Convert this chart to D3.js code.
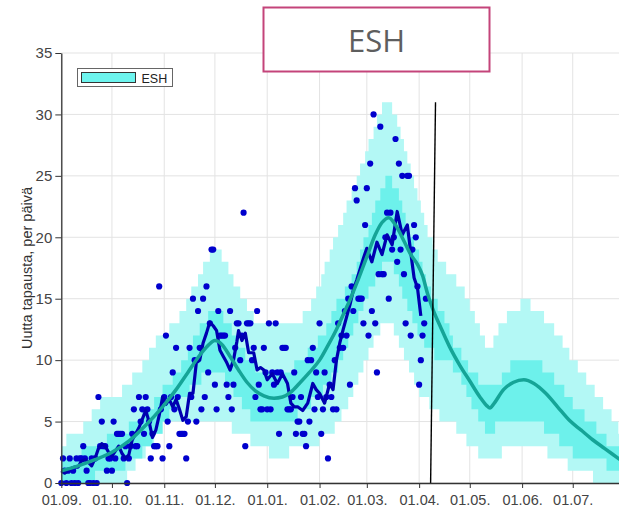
<!DOCTYPE html>
<html>
<head>
<meta charset="utf-8">
<script src="https://cdn.jsdelivr.net/npm/d3@7"></script>
<style>
  body { margin: 0; background: #fff; }
  svg { display: block; font-family: "Liberation Sans", Arial, sans-serif; }
</style>
</head>
<body>
<div id="chart"></div>
<script>
// ---- data (days counted from 01.09.2020) ----
const startDay = "2020-09-01";
const lastDay = 331;

const monthTicks = ["2020-09-01", "2020-10-01", "2020-11-01", "2020-12-01", "2021-01-01",
  "2021-02-01", "2021-03-01", "2021-04-01", "2021-05-01", "2021-06-01", "2021-07-01"];
const yTicks = [0, 5, 10, 15, 20, 25, 30, 35];

// daily new cases, one value per day from 01.09.
const dailyCases = [
  0, 2, 1, 0, 1, 2, 0, 1, 0, 2,
  0, 2, 2, 3, 2, 1, 0, 0, 2, 0,
  2, 0, 7, 3, 5, 3, 3, 1, 2, 2,
  1, 5, 2, 4, 4, 4, 4, 2, 3, 0,
  2, 3, 4, 6, 3, 3, 7, 5, 6, 4,
  7, 6, 5, 2, 4, 3, 3, 3, 16, 6,
  2, 7, 12, 5, 3, 7, 9, 6, 11, 7,
  4, 4, 4, 4, 2, 5, 11, 7, 15, 10,
  5, 14, 11, 6, 15, 7, 16, 9, 13, 19,
  19, 8, 6, 14, 12, 12, 12, 12, 8, 7,
  14, 6, 8, 11, 13, 13, 10, 12, 22, 3,
  13, 13, 13, 10, 11, 7, 14, 8, 6, 6,
  11, 9, 6, 13, 6, 9, 8, 13, 9, 4,
  9, 11, 11, 11, 6, 6, 6, 7, 9, 4,
  5, 5, 7, 4, 4, 3, 10, 5, 10, 11,
  6, 9, 7, 13, 4, 6, 9, 7, 2, 8,
  7, 6, 10, 6, 13, 11, 12, 11, 14, 12,
  15, 8, 16, 14, 24, 23, 15, 15, 15, 13,
  21, 24, 12, 26, 14, 30, 13, 9, 17, 29,
  17, 17, 20, 22, 15, 22, 19, 20, 28, 18,
  26, 19, 25, 17, 13, 25, 25, 12, 19, 21,
  20, 16, 8, 10, 12, 13, 15
];

// observed rolling mean [day, value]
const observed = [
  [0,1.0],[2,0.8],[4,1.0],[6,1.2],[8,1.3],[10,1.3],[12,1.8],[14,1.9],[16,1.7],[18,1.4],
  [20,2.0],[22,2.8],[24,3.2],[26,3.0],[28,2.5],[30,2.2],[32,2.6],[34,3.0],[36,2.4],[38,2.0],
  [40,2.3],[42,3.5],[44,4.0],[46,4.5],[48,5.2],[50,5.9],[52,5.0],[54,3.7],[56,4.3],[58,5.5],
  [60,7.0],[62,6.4],[64,6.8],[66,6.2],[68,6.8],[70,6.0],[72,5.1],[74,5.4],[76,7.3],[78,7.3],
  [80,9.8],[82,10.0],[84,11.4],[86,12.2],[88,13.1],[90,12.8],[92,12.4],[94,10.8],[96,10.3],[98,9.8],
  [100,9.2],[102,10.0],[104,11.5],[105,12.4],[107,11.6],[109,12.2],[111,10.6],[114,10.6],[116,9.2],[118,9.4],
  [120,9.2],[122,8.4],[125,8.9],[128,8.1],[131,8.9],[134,8.1],[136,6.5],[138,6.2],[140,6.2],[143,5.9],
  [146,6.5],[149,8.1],[151,7.6],[153,7.3],[156,6.5],[159,8.1],[161,7.6],[163,10.0],[165,11.4],[167,12.5],
  [169,13.5],[171,14.5],[173,15.7],[175,16.5],[177,17.4],[179,18.3],[181,19.1],[184,18.0],[187,19.6],[190,18.6],
  [193,20.2],[196,19.4],[199,22.1],[202,20.2],[205,21.0],[207,18.8],[209,16.7],[211,15.9],[213,13.6]
];

// model median [day, value]
const median = [
  [0,1.0],[10,1.4],[20,1.9],[30,2.5],[40,3.4],[50,4.7],[60,6.2],[68,7.6],[75,9.0],[82,10.4],
  [87,11.2],[91,11.6],[95,11.3],[100,10.3],[105,9.2],[110,8.2],[115,7.5],[120,7.1],[126,6.9],[131,7.0],
  [136,7.4],[141,8.1],[147,9.0],[153,10.0],[158,11.2],[163,12.5],[168,14.0],[171,14.9],[176,16.6],[181,18.4],
  [186,20.2],[190,21.2],[194,21.6],[198,21.0],[203,19.7],[207,18.6],[211,17.8],[214,16.9],[217,15.4],[220,14.2],
  [225,12.6],[230,11.1],[236,9.6],[242,8.3],[248,7.0],[252,6.3],[254,6.1],[256,6.4],[262,7.6],[268,8.2],
  [274,8.4],[280,8.1],[287,7.3],[294,6.2],[301,5.1],[308,4.3],[315,3.5],[322,2.8],[331,1.9]
];

// prediction band edges, step change points [day, value]
const outerHigh = [
  [0,3],[3,4],[13,5],[18,6],[23,7],[36,8],[42,9],[48,10],[52,11],[56,12],[64,13],[70,14],[74,15],[77,16],
  [81,17],[84,18],[88,19],[95,18],[99,17],[102,16],[106,15],[110,14],[114,13],[143,14],[148,15],[151,16],
  [154,17],[156,18],[159,19],[161,20],[164,21],[167,22],[169,23],[172,24],[175,25],[177,26],[180,27],
  [182,28],[185,29],[187,30],[190,31],[196,30],[199,29],[201,28],[203,27],[205,26],[207,25],[209,24],
  [211,23],[213,22],[215,21],[217,20],[220,19],[223,18],[228,17],[234,16],[239,15],[242,14],[245,13],
  [248,12],[251,11],[256,12],[259,13],[264,14],[272,15],[278,14],[286,13],[292,12],[297,11],[301,10],
  [306,9],[311,8],[316,7],[321,6],[326,5],[330,4]
];
const innerHigh = [
  [0,2],[12,3],[27,4],[40,5],[48,6],[55,7],[60,8],[66,9],[71,10],[75,11],[78,12],[82,13],[87,14],[96,13],
  [101,12],[105,11],[109,10],[115,9],[138,10],[146,11],[152,12],[157,13],[160,14],[163,15],[168,16],
  [172,17],[175,18],[177,19],[179,20],[182,21],[184,22],[186,23],[189,24],[192,25],[196,24],[200,23],
  [202,22],[204,21],[206,20],[209,19],[212,18],[214,17],[216,16],[219,15],[223,14],[227,13],[230,12],
  [232,11],[237,10],[241,9],[247,8],[261,9],[266,10],[285,9],[292,8],[298,7],[303,6],[310,5],[317,4],[323,3]
];
const innerLow = [
  [0,0],[20,1],[38,2],[48,3],[54,4],[60,5],[64,6],[70,7],[76,8],[83,9],[97,8],[102,7],[107,6],[112,5],
  [140,6],[148,7],[155,8],[160,9],[164,10],[167,11],[170,12],[173,13],[176,14],[179,15],[182,16],[186,17],
  [190,18],[197,17],[200,16],[202,15],[205,14],[208,13],[211,12],[215,11],[221,10],[232,9],[237,8],
  [240,7],[243,6],[247,5],[251,4],[257,5],[286,4],[295,3],[303,2],[323,1]
];
const outerLow = [
  [0,0],[39,1],[44,2],[50,3],[55,4],[60,5],[101,4],[112,3],[123,2],[135,3],[153,4],[162,5],[166,6],
  [170,7],[173,8],[176,9],[179,10],[182,11],[185,12],[189,13],[197,12],[200,11],[203,10],[206,9],
  [209,8],[212,7],[218,6],[224,5],[234,4],[240,3],[247,2],[261,3],[288,2],[300,1],[315,0]
];

// end-of-data marker line [day, value]
const cutoff = [[221.7, 31], [218.8, 0]];

// ---- chart ----
const width = 619, height = 508;
const x0 = 61.3, x1 = 620, yBottom = 483, yTop = 53;

const start = new Date(startDay).getTime();
const dayDate = d => new Date(start + d * 864e5);

const x = d3.scaleUtc().domain([dayDate(0), dayDate(lastDay)]).range([x0, x1]);
const y = d3.scaleLinear().domain([0, 35]).range([yBottom, yTop]);
const months = monthTicks.map(s => new Date(s));

const svg = d3.select("#chart").append("svg")
  .attr("width", width)
  .attr("height", height);

// grid
svg.append("g").selectAll("line")
  .data(yTicks)
  .join("line")
    .attr("x1", x0).attr("x2", x1)
    .attr("y1", d => y(d)).attr("y2", d => y(d))
    .attr("stroke", "#e3e3e3").attr("stroke-width", 1);
svg.append("g").selectAll("line")
  .data(months)
  .join("line")
    .attr("x1", d => x(d)).attr("x2", d => x(d))
    .attr("y1", yTop).attr("y2", yBottom)
    .attr("stroke", "#e3e3e3").attr("stroke-width", 1);

// bands
function stepValue(steps, day) {
  let v = steps[0][1];
  for (const [d, val] of steps) { if (d <= day) v = val; else break; }
  return v;
}
function bandRows(hi, lo) {
  const days = Array.from(new Set([...hi.map(s => s[0]), ...lo.map(s => s[0]), lastDay]))
    .sort((a, b) => a - b);
  return days.map(d => ({day: d, hi: stepValue(hi, d), lo: stepValue(lo, d)}));
}
const band = d3.area()
  .curve(d3.curveStepAfter)
  .x(d => x(dayDate(d.day)))
  .y0(d => y(d.lo))
  .y1(d => y(d.hi));

svg.append("path")
  .datum(bandRows(outerHigh, outerLow))
  .attr("fill", "#b3f8f5")
  .attr("d", band);
svg.append("path")
  .datum(bandRows(innerHigh, innerLow))
  .attr("fill", "#6df1eb")
  .attr("d", band);

// daily dots
svg.append("g").selectAll("circle")
  .data(dailyCases)
  .join("circle")
    .attr("cx", (d, i) => x(dayDate(i)))
    .attr("cy", d => y(d))
    .attr("r", 3.1)
    .attr("fill", "#0000cd");

// observed line
svg.append("path")
  .datum(observed)
  .attr("fill", "none")
  .attr("stroke", "#0000b0")
  .attr("stroke-width", 3.2)
  .attr("stroke-linejoin", "round")
  .attr("d", d3.line().x(d => x(dayDate(d[0]))).y(d => y(d[1])));

// median line
svg.append("path")
  .datum(median)
  .attr("fill", "none")
  .attr("stroke", "#15a497")
  .attr("stroke-width", 3.5)
  .attr("d", d3.line().curve(d3.curveMonotoneX).x(d => x(dayDate(d[0]))).y(d => y(d[1])));

// cutoff marker
svg.append("path")
  .datum(cutoff)
  .attr("fill", "none")
  .attr("stroke", "#000")
  .attr("stroke-width", 1.4)
  .attr("d", d3.line().x(d => x(dayDate(d[0]))).y(d => y(d[1])));

// axes
const gy = svg.append("g")
  .attr("transform", `translate(${x0},0)`)
  .call(d3.axisLeft(y).tickValues(yTicks).tickSize(6).tickSizeOuter(0).tickPadding(3));
gy.attr("color", "#333").attr("font-size", 15).attr("font-family", null);
gy.selectAll(".tick text").attr("fill", "#444");
gy.select(".domain").attr("stroke-width", 1.3);

const gx = svg.append("g")
  .attr("transform", `translate(0,${yBottom})`)
  .call(d3.axisBottom(x).tickValues(months).tickSize(5).tickSizeOuter(0).tickPadding(7)
    .tickFormat(d3.utcFormat("%d.%m.")));
gx.attr("color", "#333").attr("font-size", 14.5).attr("font-family", null);
gx.selectAll(".tick text").attr("fill", "#444");
gx.select(".domain").attr("stroke-width", 1.3);

// y axis title
svg.append("text")
  .attr("transform", "translate(31.5,268) rotate(-90)")
  .attr("text-anchor", "middle")
  .attr("font-size", 14.5)
  .attr("fill", "#333")
  .text("Uutta tapausta, per päivä");

// title box
svg.append("rect")
  .attr("x", 263.5).attr("y", 7.5)
  .attr("width", 226).attr("height", 64)
  .attr("fill", "#fff")
  .attr("stroke", "#c4447a")
  .attr("stroke-width", 2);
svg.append("text")
  .attr("x", 376.5).attr("y", 52)
  .attr("text-anchor", "middle")
  .attr("font-family", "'Open Sans', sans-serif")
  .attr("font-size", 31)
  .attr("fill", "#5e5e5e")
  .text("ESH");

// legend
svg.append("rect")
  .attr("x", 77.5).attr("y", 68.5)
  .attr("width", 95).attr("height", 18)
  .attr("fill", "#fff")
  .attr("stroke", "#666").attr("stroke-width", 1);
svg.append("rect")
  .attr("x", 81.5).attr("y", 72.5)
  .attr("width", 54).attr("height", 10)
  .attr("fill", "#6df4ee")
  .attr("stroke", "#333").attr("stroke-width", 1);
svg.append("text")
  .attr("x", 141.5).attr("y", 83)
  .attr("font-size", 12.5)
  .attr("fill", "#222")
  .text("ESH");
</script>
</body>
</html>
